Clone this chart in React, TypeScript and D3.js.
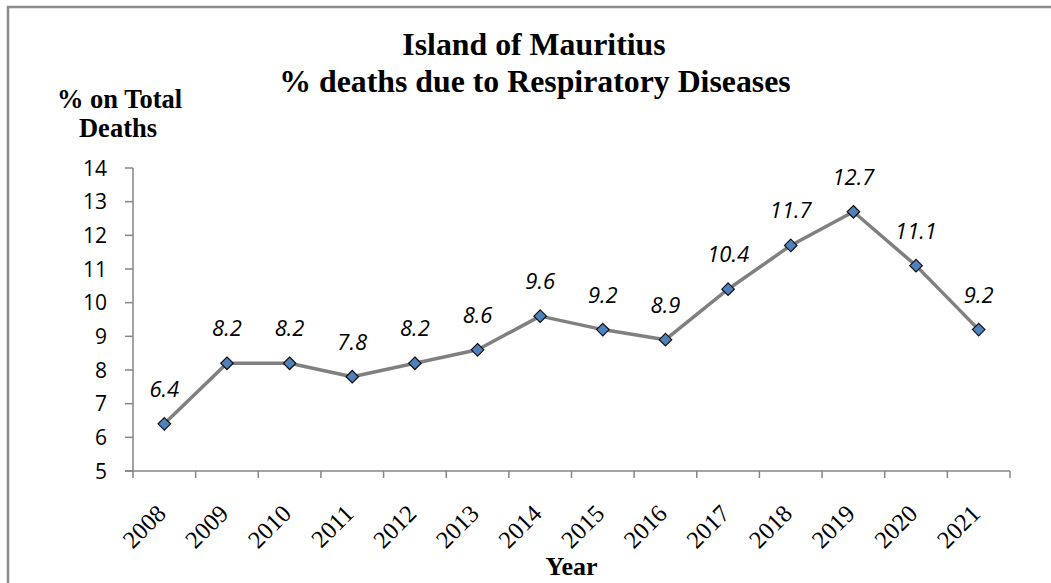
import React from "react";
import * as d3 from "d3";

const years = ["2008","2009","2010","2011","2012","2013","2014","2015","2016","2017","2018","2019","2020","2021"];
const values = [6.4, 8.2, 8.2, 7.8, 8.2, 8.6, 9.6, 9.2, 8.9, 10.4, 11.7, 12.7, 11.1, 9.2];
const yTicks = [5, 6, 7, 8, 9, 10, 11, 12, 13, 14];
const titleLines = ["Island of Mauritius", "% deaths due to Respiratory Diseases"];
const yLabelLines = ["% on Total", "Deaths"];
const xLabel = "Year";

export default function App() {
  const W = 1051, H = 583;
  const left = 133, right = 1010, top = 168, bottom = 471;
  const x = d3.scaleBand<string>().domain(years).range([left, right]).padding(0);
  const y = d3.scaleLinear().domain([5, 14]).range([bottom, top]);
  const cx = (yr: string) => (x(yr) as number) + x.bandwidth() / 2;
  const line = d3.line<number>().x((_, i) => cx(years[i])).y((v) => y(v));
  const axisColor = "#868686";
  const boundaries = years.map((yr) => x(yr) as number).concat([right]);
  const diamond = d3.symbol().type(d3.symbolDiamond2).size(100)();
  const serif = "'Liberation Serif', 'Times New Roman', serif";

  return (
    <svg width={W} height={H} style={{ position: "absolute", left: 0, top: 0, background: "#fff" }}>
      <rect x={8} y={7} width={1200} height={800} fill="#fff" stroke="#8c8c8c" strokeWidth={2.5} />
      <g fontFamily={serif} fontWeight="bold" fontSize={31.8} textAnchor="middle" fill="#000">
        <text x={534} y={55}>{titleLines[0]}</text>
        <text x={535} y={92}>{titleLines[1]}</text>
      </g>
      <g fontFamily={serif} fontWeight="bold" fontSize={26.5} textAnchor="middle" fill="#000">
        <text x={119.5} y={108}>{yLabelLines[0]}</text>
        <text x={118} y={137}>{yLabelLines[1]}</text>
      </g>
      <line x1={left} x2={left} y1={top} y2={bottom} stroke={axisColor} strokeWidth={1.5} />
      <line x1={left - 8} x2={right} y1={bottom} y2={bottom} stroke={axisColor} strokeWidth={1.5} />
      {yTicks.map((t) => (
        <g key={t}>
          <line x1={left - 8} x2={left} y1={y(t)} y2={y(t)} stroke={axisColor} strokeWidth={1.5} />
          <text x={107} y={y(t)} dy="0.36em" textAnchor="end" fontFamily="'Open Sans', sans-serif" fontSize={21} fill="#000">{t}</text>
        </g>
      ))}
      {boundaries.map((b, i) => (
        <line key={i} x1={b} x2={b} y1={bottom} y2={bottom + 7} stroke={axisColor} strokeWidth={1.5} />
      ))}
      {years.map((yr) => (
        <text key={yr} transform={`translate(${cx(yr) + 3},${bottom + 44}) rotate(-45)`} textAnchor="end"
          fontFamily={serif} fontSize={24.5} fill="#000">{yr}</text>
      ))}
      <text x={(left + right) / 2} y={575} textAnchor="middle" fontFamily={serif} fontWeight="bold" fontSize={26} fill="#000">{xLabel}</text>
      <path d={line(values) || ""} fill="none" stroke="#808080" strokeWidth={3.5} strokeLinejoin="round" />
      {values.map((v, i) => (
        <path key={i} d={diamond || ""} transform={`translate(${cx(years[i])},${y(v)})`} fill="#4f81bd" stroke="#111" strokeWidth={1.2} />
      ))}
      {values.map((v, i) => (
        <text key={"l" + i} x={cx(years[i])} y={y(v) - 27} textAnchor="middle" fontFamily="'Open Sans', sans-serif" fontStyle="italic" fontSize={22} fill="#000">{v.toFixed(1)}</text>
      ))}
    </svg>
  );
}
